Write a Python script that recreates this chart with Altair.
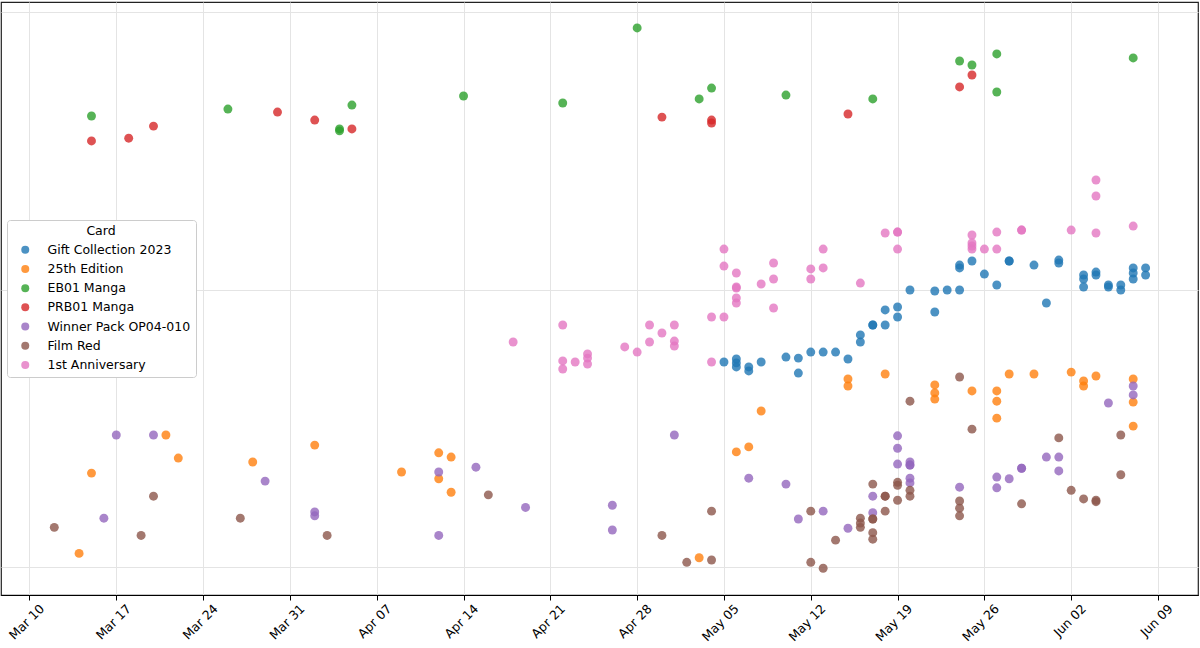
import altair as alt
import pandas as pd

series_names = ["Gift Collection 2023", "25th Edition", "EB01 Manga", "PRB01 Manga",
                "Winner Pack OP04-010", "Film Red", "1st Anniversary"]
series_colors = ["#1f77b4", "#ff7f0e", "#2ca02c", "#d62728", "#9467bd", "#8c564b", "#e377c2"]

gift_2023 = [("05-05", 548), ("05-06", 562), ("05-06", 544), ("05-06", 526), ("05-07", 526), ("05-07", 509),
             ("05-08", 548), ("05-10", 571), ("05-11", 566), ("05-11", 500), ("05-12", 595), ("05-13", 595),
             ("05-14", 595), ("05-15", 562), ("05-16", 686), ("05-16", 647), ("05-17", 745), ("05-17", 745),
             ("05-18", 844), ("05-18", 745), ("05-19", 865), ("05-19", 796), ("05-20", 996), ("05-22", 988),
             ("05-22", 830), ("05-23", 996), ("05-24", 996), ("05-24", 1225), ("05-24", 1196), ("05-25", 1267),
             ("05-26", 1137), ("05-27", 1038), ("05-28", 1267), ("05-28", 1267), ("05-30", 1225), ("05-31", 894),
             ("06-01", 1277), ("06-01", 1246), ("06-03", 1128), ("06-03", 1091), ("06-03", 1021), ("06-04", 1156),
             ("06-04", 1128), ("06-05", 1038), ("06-05", 1021), ("06-06", 1038), ("06-06", 996), ("06-07", 1196),
             ("06-07", 1147), ("06-07", 1091), ("06-08", 1196), ("06-08", 1128)]

edition_25th = [("03-14", 112), ("03-15", 218), ("03-21", 299), ("03-22", 247), ("03-28", 239), ("04-02", 275),
                ("04-09", 220), ("04-12", 258), ("04-12", 208), ("04-13", 249), ("04-13", 186), ("05-03", 108),
                ("05-06", 260), ("05-07", 271), ("05-08", 365), ("05-15", 476), ("05-15", 449), ("05-18", 496),
                ("05-22", 453), ("05-22", 424), ("05-22", 403), ("05-25", 431), ("05-27", 431), ("05-27", 396),
                ("05-27", 344), ("05-28", 496), ("05-30", 496), ("06-02", 504), ("06-03", 468), ("06-03", 449),
                ("06-04", 488), ("06-07", 476), ("06-07", 393), ("06-07", 322)]

eb01_manga = [("03-15", 4220), ("03-26", 4470), ("04-04", 3790), ("04-04", 3730), ("04-05", 4620),
              ("04-14", 4980), ("04-22", 4700), ("04-28", 8760), ("05-03", 4860), ("05-04", 5320),
              ("05-10", 5020), ("05-17", 4860), ("05-24", 6660), ("05-25", 6440), ("05-27", 7060),
              ("05-27", 5150), ("06-07", 6830)]

prb01_manga = [("03-15", 3430), ("03-18", 3510), ("03-20", 3880), ("03-30", 4360), ("04-02", 4080),
               ("04-05", 3790), ("04-30", 4180), ("05-04", 4080), ("05-04", 3980), ("05-15", 4290),
               ("05-24", 5370), ("05-25", 5930)]

winner_pack = [("03-16", 150), ("03-17", 299), ("03-20", 299), ("03-29", 204), ("04-02", 158), ("04-02", 153),
               ("04-12", 220), ("04-12", 130), ("04-15", 229), ("04-19", 164), ("04-26", 167), ("04-26", 136),
               ("05-01", 299), ("05-07", 209), ("05-10", 199), ("05-11", 149), ("05-13", 159), ("05-15", 138),
               ("05-17", 180), ("05-17", 157), ("05-19", 297), ("05-19", 268), ("05-19", 235), ("05-20", 239),
               ("05-20", 233), ("05-20", 233), ("05-20", 209), ("05-20", 201), ("05-24", 194), ("05-27", 211),
               ("05-27", 193), ("05-28", 208), ("05-29", 227), ("05-29", 227), ("05-31", 249), ("06-01", 249),
               ("06-01", 222), ("06-05", 390), ("06-07", 449), ("06-07", 417)]

film_red = [("03-12", 139), ("03-19", 130), ("03-20", 180), ("03-27", 150), ("04-03", 130), ("04-16", 182),
            ("04-30", 130), ("05-02", 104), ("05-04", 159), ("05-04", 106), ("05-12", 159), ("05-12", 104),
            ("05-13", 99), ("05-14", 125), ("05-16", 150), ("05-16", 144), ("05-16", 139), ("05-17", 199),
            ("05-17", 149), ("05-17", 149), ("05-17", 133), ("05-17", 126), ("05-18", 180), ("05-18", 180),
            ("05-18", 159), ("05-19", 202), ("05-19", 197), ("05-19", 174), ("05-20", 396), ("05-20", 189),
            ("05-20", 180), ("05-24", 484), ("05-24", 173), ("05-24", 163), ("05-24", 153), ("05-25", 314),
            ("05-29", 169), ("06-01", 292), ("06-02", 189), ("06-03", 176), ("06-04", 174), ("06-04", 172),
            ("06-06", 299), ("06-06", 215)]

first_anniversary = [("04-18", 647), ("04-22", 745), ("04-22", 553), ("04-22", 517), ("04-23", 548),
                     ("04-24", 586), ("04-24", 566), ("04-24", 539), ("04-27", 621), ("04-28", 595),
                     ("04-29", 745), ("04-29", 647), ("04-30", 697), ("05-01", 745), ("05-01", 652),
                     ("05-01", 626), ("05-04", 796), ("05-04", 548), ("05-05", 1399), ("05-05", 1215),
                     ("05-05", 796), ("05-06", 1147), ("05-06", 1021), ("05-06", 1012), ("05-06", 932),
                     ("05-06", 894), ("05-08", 1047), ("05-09", 1246), ("05-09", 1091), ("05-09", 858),
                     ("05-12", 1186), ("05-12", 1091), ("05-13", 1399), ("05-13", 1196), ("05-16", 1055),
                     ("05-18", 1598), ("05-19", 1611), ("05-19", 1611), ("05-19", 1399), ("05-25", 1572),
                     ("05-25", 1471), ("05-25", 1435), ("05-25", 1399), ("05-26", 1399), ("05-27", 1611),
                     ("05-27", 1399), ("05-29", 1638), ("05-29", 1638), ("06-02", 1638), ("06-04", 2481),
                     ("06-04", 2173), ("06-04", 1598), ("06-07", 1693)]

tick_dates = [(3, 10), (3, 17), (3, 24), (3, 31), (4, 7), (4, 14), (4, 21), (4, 28),
              (5, 5), (5, 12), (5, 19), (5, 26), (6, 2), (6, 9)]
y_grid_values = [100, 1000, 10000]

all_series = [gift_2023, edition_25th, eb01_manga, prb01_manga, winner_pack, film_red, first_anniversary]
rows = []
for order_idx, (name, pts) in enumerate(zip(series_names, all_series)):
    for d, p in pts:
        rows.append({"Date": "2024-" + d, "Price": p, "Card": name, "k": order_idx})
df = pd.DataFrame(rows)

x_domain = [alt.DateTime(year=2024, month=3, date=7, hours=16, minutes=52, utc=True),
            alt.DateTime(year=2024, month=6, date=12, hours=5, minutes=25, utc=True)]
x_ticks = [alt.DateTime(year=2024, month=m, date=d, utc=True) for m, d in tick_dates]

chart = alt.Chart(df).mark_circle(size=80, opacity=0.8).encode(
    x=alt.X("Date:T",
            scale=alt.Scale(type="utc", domain=x_domain),
            axis=alt.Axis(values=x_ticks, format="%b %d", labelAngle=-45, labelAlign="right",
                          labelBaseline="top", labelOffset=8, labelPadding=2, title=None,
                          tickSize=5, tickColor="black", domainColor="black",
                          labelFontSize=12.5, labelColor="black", gridColor="#e4e4e4")),
    y=alt.Y("Price:Q",
            scale=alt.Scale(type="log", domain=[79.3, 10864]),
            axis=alt.Axis(values=y_grid_values, labels=False, ticks=False, domain=False,
                          title=None, grid=True, gridColor="#e4e4e4")),
    color=alt.Color("Card:N",
                    scale=alt.Scale(domain=series_names, range=series_colors),
                    legend=alt.Legend(title="Card", orient="none", legendX=6, legendY=218,
                                      direction="vertical", fillColor="white", strokeColor="#cccccc",
                                      cornerRadius=3, padding=5, titleAnchor="middle",
                                      titleFontSize=12.5, titleFontWeight="normal", titleColor="black",
                                      titlePadding=6, labelFontSize=12.5, labelColor="black",
                                      symbolSize=64, symbolOpacity=0.8, symbolType="circle",
                                      symbolStrokeWidth=0, rowPadding=6.2, symbolOffset=7,
                                      labelOffset=16)),
    order=alt.Order("k:Q"),
).properties(
    width=1197, height=593,
    autosize=alt.AutoSizeParams(type="none"),
    padding={"left": 1, "top": 2, "right": 2, "bottom": 53},
).configure(font="DejaVu Sans").configure_view(stroke="#222222", strokeWidth=1.2)

chart.save("out.html", embed_options={"renderer": "svg", "actions": False})
